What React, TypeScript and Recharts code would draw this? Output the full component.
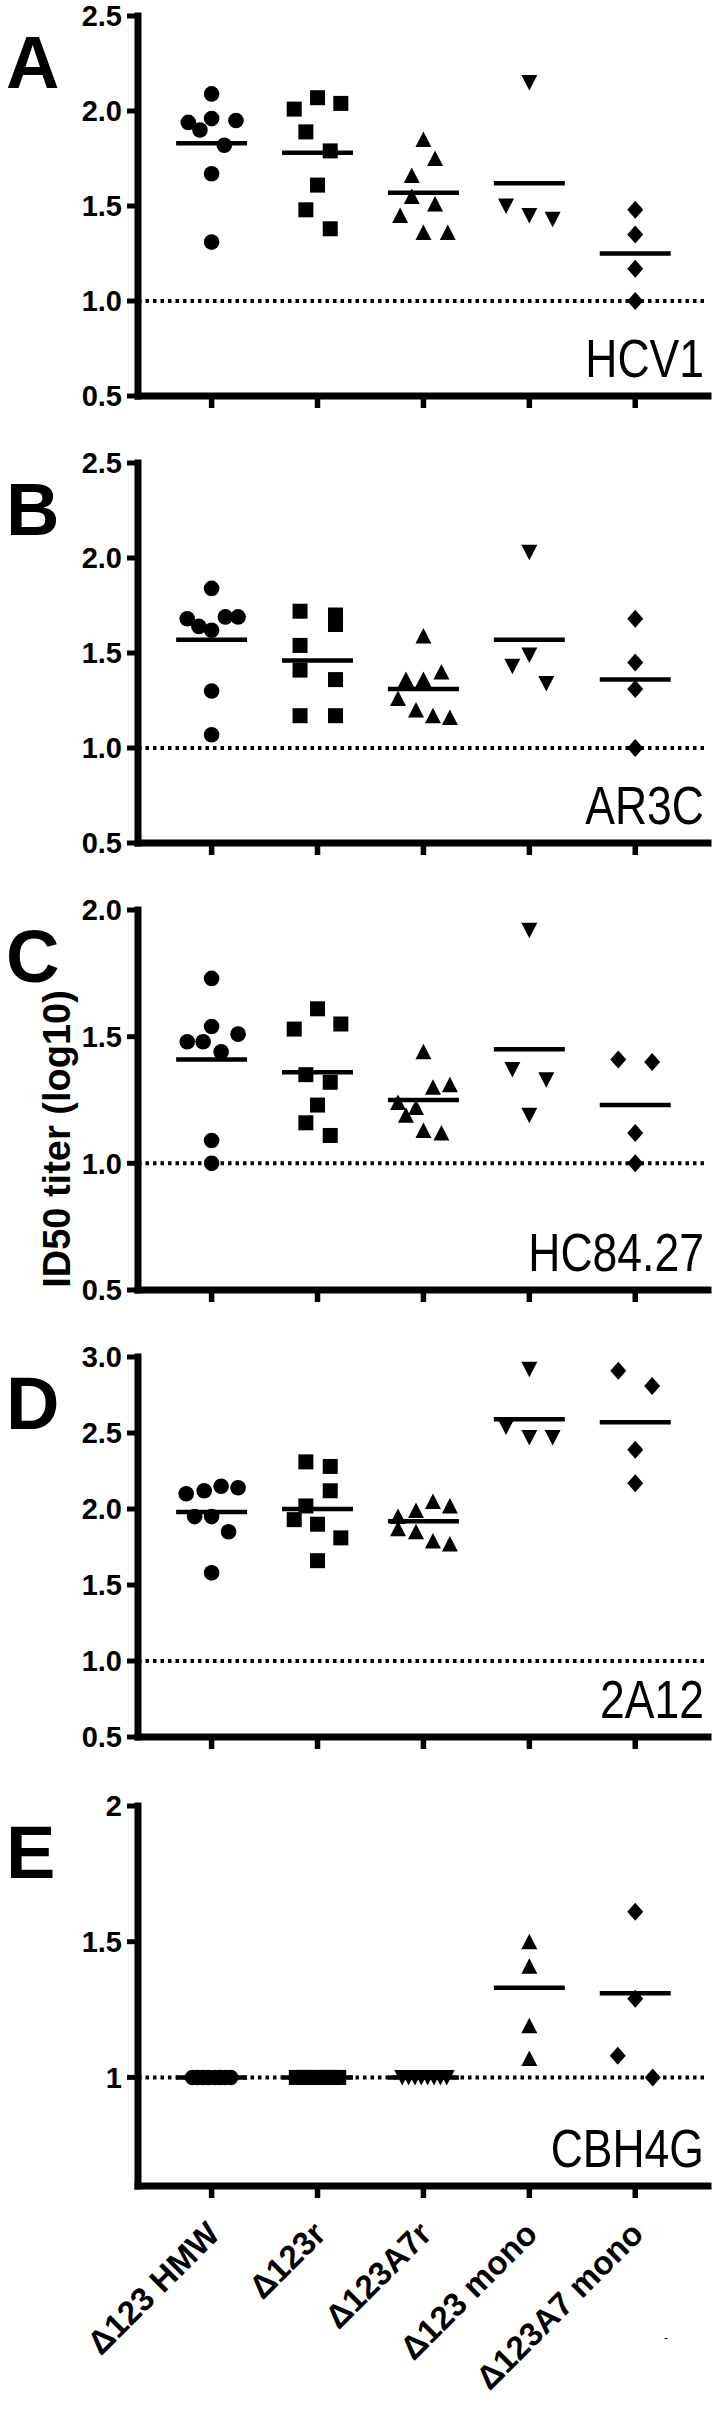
import React from 'react';
import { ScatterChart, Scatter, XAxis, YAxis, ReferenceLine } from 'recharts';

const categories = ['Δ123 HMW', 'Δ123r', 'Δ123A7r', 'Δ123 mono', 'Δ123A7 mono'];
const panelLetters = ['A', 'B', 'C', 'D', 'E'];
const antibodyNames = ['HCV1', 'AR3C', 'HC84.27', '2A12', 'CBH4G'];

// Panel A – HCV1
const hcv1Values = [
  [2.09, 1.94, 1.96, 1.95, 1.9, 1.82, 1.67, 1.31],
  [2.01, 2.07, 2.04, 1.89, 1.79, 1.61, 1.48, 1.38],
  [1.85, 1.75, 1.66, 1.55, 1.51, 1.45, 1.36, 1.36],
  [2.15, 1.5, 1.45, 1.43],
  [1.48, 1.35, 1.17, 1.0],
];
const hcv1Jitter = [
  [0, -0.22, 0, 0.23, -0.11, 0.12, 0, 0],
  [-0.22, 0, 0.22, -0.11, 0.12, 0, -0.11, 0.12],
  [0, 0.11, -0.11, -0.11, 0.11, -0.22, 0, 0.23],
  [0, -0.22, 0, 0.22],
  [0, 0, 0, 0],
];
const hcv1Means = [1.83, 1.78, 1.57, 1.62, 1.25];

// Panel B – AR3C
const ar3cValues = [
  [1.84, 1.68, 1.64, 1.62, 1.69, 1.69, 1.3, 1.07],
  [1.72, 1.7, 1.65, 1.54, 1.41, 1.36, 1.17, 1.17],
  [1.59, 1.36, 1.36, 1.4, 1.26, 1.2, 1.17, 1.16],
  [2.03, 1.43, 1.49, 1.34],
  [1.68, 1.45, 1.31, 1.0],
];
const ar3cJitter = [
  [0, -0.23, -0.12, 0, 0.13, 0.25, 0, 0],
  [-0.165, 0.17, 0.17, -0.165, -0.165, 0.17, -0.165, 0.17],
  [0, -0.165, 0, 0.17, -0.24, -0.07, 0.09, 0.25],
  [0, -0.16, 0, 0.16],
  [0, 0, 0, 0],
];
const ar3cMeans = [1.57, 1.46, 1.31, 1.57, 1.36];

// Panel C – HC84.27
const hc84Values = [
  [1.73, 1.54, 1.48, 1.48, 1.44, 1.51, 1.09, 1.0],
  [1.61, 1.53, 1.55, 1.35, 1.32, 1.23, 1.16, 1.11],
  [1.44, 1.3, 1.31, 1.24, 1.22, 1.19, 1.13, 1.12],
  [1.92, 1.37, 1.33, 1.19],
  [1.41, 1.4, 1.12, 1.0],
];
const hc84Jitter = [
  [0, 0, -0.23, -0.08, 0.09, 0.25, 0, 0],
  [0, -0.22, 0.22, -0.11, 0.12, 0, -0.11, 0.12],
  [0, 0.09, 0.25, -0.24, -0.07, -0.165, 0, 0.17],
  [0, -0.16, 0.16, 0],
  [-0.16, 0.16, 0, 0],
];
const hc84Means = [1.41, 1.36, 1.25, 1.45, 1.23];

// Panel D – 2A12
const a12Values = [
  [2.1, 2.12, 2.15, 2.14, 1.95, 1.95, 1.85, 1.58],
  [2.31, 2.28, 2.12, 2.02, 1.93, 1.9, 1.81, 1.66],
  [2.05, 2.02, 1.99, 1.95, 1.87, 1.85, 1.79, 1.77],
  [2.92, 2.54, 2.47, 2.47],
  [2.91, 2.81, 2.39, 2.17],
];
const a12Jitter = [
  [-0.24, -0.07, 0.09, 0.25, -0.16, 0, 0.16, 0],
  [-0.11, 0.12, 0.12, -0.11, -0.22, 0, 0.22, 0],
  [0.09, 0.25, -0.07, -0.24, -0.24, -0.07, 0.09, 0.25],
  [0, -0.22, 0, 0.22],
  [-0.16, 0.16, 0, 0],
];
const a12Means = [1.98, 2.0, 1.92, 2.59, 2.57];

// Panel E – CBH4G
const cbh4gValues = [
  [1, 1, 1, 1, 1, 1, 1, 1],
  [1, 1, 1, 1, 1, 1, 1, 1],
  [1, 1, 1, 1, 1, 1, 1, 1],
  [1.5, 1.41, 1.19, 1.07],
  [1.61, 1.29, 1.08, 1.0],
];
const cbh4gJitter = [
  [-0.18, -0.13, -0.08, -0.03, 0.03, 0.08, 0.13, 0.18],
  [-0.2, -0.14, -0.09, -0.03, 0.03, 0.09, 0.14, 0.2],
  [-0.2, -0.14, -0.08, -0.02, 0.04, 0.1, 0.16, 0.22],
  [0, 0, 0, 0],
  [0, 0, -0.165, 0.165],
];
const cbh4gMeans = [1, 1, 1, 1.33, 1.31];

const ticks25 = [0.5, 1, 1.5, 2, 2.5];
const ticks20 = [0.5, 1, 1.5, 2];
const ticks30 = [0.5, 1, 1.5, 2, 2.5, 3];
const ticksE = [1, 1.5, 2];

const FONT = "'Liberation Sans', Arial, Helvetica, sans-serif";

const PLOT_H = 380;
const MARGIN_TOP = 30;

function Marker(props: any) {
  const { cx, cy, kind } = props;
  if (cx == null || cy == null) return null;
  switch (kind) {
    case 'circle':
      return <circle cx={cx} cy={cy} r={7.8} fill="#000" />;
    case 'square':
      return <rect x={cx - 7.5} y={cy - 7.5} width={15} height={15} fill="#000" />;
    case 'triangle':
      return <polygon points={`${cx},${cy - 8} ${cx + 8},${cy + 7.5} ${cx - 8},${cy + 7.5}`} fill="#000" />;
    case 'triangleDown':
      return <polygon points={`${cx - 8},${cy - 7.5} ${cx + 8},${cy - 7.5} ${cx},${cy + 8}`} fill="#000" />;
    case 'diamond':
    default:
      return <polygon points={`${cx},${cy - 9} ${cx + 8},${cy} ${cx},${cy + 9} ${cx - 8},${cy}`} fill="#000" />;
  }
}

function EmptyTick() {
  return <g />;
}

function AngledTick(props: any) {
  const { x, y, payload } = props;
  const ax = x + 10;
  const ay = y + 36;
  return (
    <text
      x={ax}
      y={ay}
      transform={`rotate(-45 ${ax} ${ay})`}
      textAnchor="end"
      fontSize={33}
      fontWeight="bold"
      fontFamily={FONT}
      fill="#000"
    >
      {categories[payload.value]}
    </text>
  );
}

type PanelProps = {
  top: number;
  values: number[][];
  jitter: number[][];
  means: number[];
  domain: [number, number];
  ticks: number[];
  fmt: (v: number) => string;
  kinds: string[];
  showLabels: boolean;
};

function Panel({ top, values, jitter, means, domain, ticks, fmt, kinds, showLabels }: PanelProps) {
  const xAxisHeight = showLabels ? 220 : 30;
  const height = MARGIN_TOP + PLOT_H + xAxisHeight;
  const series = values.map((vals, g) => vals.map((v, i) => ({ x: g + jitter[g][i], y: v })));
  return (
    <div style={{ position: 'absolute', left: 0, top: top - MARGIN_TOP, width: 719, height }}>
      <ScatterChart width={719} height={height} margin={{ top: MARGIN_TOP, right: 11, bottom: 0, left: 0 }}>
        <XAxis
          type="number"
          dataKey="x"
          domain={[-0.695, 4.687]}
          ticks={[0, 1, 2, 3, 4]}
          interval={0}
          allowDataOverflow
          height={xAxisHeight}
          axisLine={{ stroke: '#000', strokeWidth: 7, strokeLinecap: 'square' }}
          tickLine={{ stroke: '#000', strokeWidth: 5.5 }}
          tickSize={12}
          tickMargin={2}
          tick={showLabels ? <AngledTick /> : <EmptyTick />}
        />
        <YAxis
          type="number"
          dataKey="y"
          domain={domain}
          ticks={ticks}
          interval={0}
          allowDataOverflow
          width={138}
          axisLine={{ stroke: '#000', strokeWidth: 7, strokeLinecap: 'square' }}
          tickLine={{ stroke: '#000', strokeWidth: 5 }}
          tickSize={11}
          tickMargin={5}
          tickFormatter={fmt}
          tick={{ fill: '#000', fontSize: 29, fontWeight: 'bold', fontFamily: FONT }}
        />
        <ReferenceLine y={1} stroke="#000" strokeWidth={4} strokeDasharray="3.5 4" />
        {means.map((m, g) => (
          <ReferenceLine
            key={`m${g}`}
            segment={[
              { x: g - 0.335, y: m },
              { x: g + 0.335, y: m },
            ]}
            stroke="#000"
            strokeWidth={4.5}
          />
        ))}
        {series.map((d, g) => (
          <Scatter
            key={`s${g}`}
            data={d}
            isAnimationActive={false}
            shape={(p: any) => <Marker {...p} kind={kinds[g]} />}
          />
        ))}
      </ScatterChart>
    </div>
  );
}

const kindsStd = ['circle', 'square', 'triangle', 'triangleDown', 'diamond'];
const kindsE = ['circle', 'square', 'triangleDown', 'triangle', 'diamond'];
const fmt1 = (v: number) => v.toFixed(1);
const fmtE = (v: number) => String(v);

const panelTops = [16, 463, 910, 1357, 1806];

export default function App() {
  const panels = [
    { values: hcv1Values, jitter: hcv1Jitter, means: hcv1Means, domain: [0.5, 2.5] as [number, number], ticks: ticks25, fmt: fmt1, kinds: kindsStd },
    { values: ar3cValues, jitter: ar3cJitter, means: ar3cMeans, domain: [0.5, 2.5] as [number, number], ticks: ticks25, fmt: fmt1, kinds: kindsStd },
    { values: hc84Values, jitter: hc84Jitter, means: hc84Means, domain: [0.5, 2] as [number, number], ticks: ticks20, fmt: fmt1, kinds: kindsStd },
    { values: a12Values, jitter: a12Jitter, means: a12Means, domain: [0.5, 3] as [number, number], ticks: ticks30, fmt: fmt1, kinds: kindsStd },
    { values: cbh4gValues, jitter: cbh4gJitter, means: cbh4gMeans, domain: [0.6, 2] as [number, number], ticks: ticksE, fmt: fmtE, kinds: kindsE },
  ];
  return (
    <div style={{ position: 'absolute', left: 0, top: 0, width: 719, height: 2413, background: '#fff', overflow: 'hidden' }}>
      {panels.map((p, i) => (
        <Panel key={i} top={panelTops[i]} {...p} showLabels={i === 4} />
      ))}
      <svg width={719} height={2413} style={{ position: 'absolute', left: 0, top: 0, pointerEvents: 'none' }}>
        {panelLetters.map((l, i) => (
          <text key={l} x={6} y={panelTops[i] + 72} fontSize={74} fontWeight="bold" fontFamily={FONT} fill="#000">
            {l}
          </text>
        ))}
        {antibodyNames.map((n, i) => (
          <text
            key={n}
            x={0}
            y={0}
            transform={`translate(704 ${panelTops[i] + PLOT_H - 19}) scale(0.84 1)`}
            fontSize={53}
            textAnchor="end"
            fontFamily={FONT}
            fill="#000"
          >
            {n}
          </text>
        ))}
        <text
          x={70}
          y={1139}
          transform="rotate(-90 70 1139)"
          textAnchor="middle"
          fontSize={38}
          fontWeight="bold"
          fontFamily={FONT}
          fill="#000"
        >
          ID50 titer (log10)
        </text>
        <text x={664} y={2342} fontSize={12} fontFamily={FONT} fill="#000">-</text>
      </svg>
    </div>
  );
}
